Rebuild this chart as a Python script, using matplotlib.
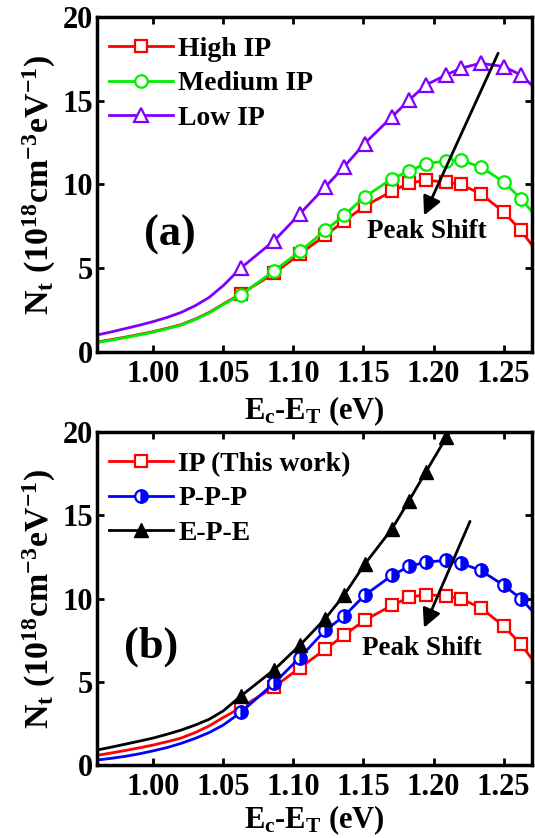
import matplotlib
matplotlib.use('Agg')
import matplotlib.pyplot as plt

plt.rcParams['font.family'] = ['Liberation Serif', 'DejaVu Serif']
plt.rcParams['font.weight'] = 'bold'
plt.rcParams['axes.labelweight'] = 'bold'
plt.rcParams['mathtext.fontset'] = 'custom'
plt.rcParams['mathtext.rm'] = 'Liberation Serif:bold'
plt.rcParams['mathtext.it'] = 'Liberation Serif:bold'
plt.rcParams['mathtext.bf'] = 'Liberation Serif:bold'
plt.rcParams['mathtext.default'] = 'bf'

# low-energy part has no markers
x_low = [0.96, 0.97, 0.98, 0.99, 1.00, 1.01, 1.02, 1.03, 1.04, 1.05]
x_mk = [1.0625, 1.0865, 1.1047, 1.1228, 1.1361, 1.1508, 1.1704, 1.1826,
        1.1944, 1.2091, 1.2194, 1.2336, 1.2501, 1.2623]
x_end = [1.27]

# panel (a)
high_ip = [0.58, 0.72, 0.87, 1.03, 1.2, 1.4, 1.62, 1.95, 2.35, 2.85,
           3.45, 4.7, 5.85, 6.95, 7.8, 8.7, 9.6, 10.08, 10.25, 10.15, 10.0, 9.45, 8.35, 7.25,
           6.4]
medium_ip = [0.55, 0.69, 0.84, 1.0, 1.17, 1.37, 1.59, 1.92, 2.32, 2.82,
             3.4, 4.85, 6.0, 7.25, 8.15, 9.25, 10.35, 10.8, 11.25, 11.4, 11.45, 11.05, 10.15, 9.15,
             8.4]
low_ip = [1.0, 1.18, 1.38, 1.58, 1.8, 2.05, 2.35, 2.75, 3.25, 3.95,
          5.0, 6.65, 8.25, 9.85, 11.05, 12.45, 14.05, 15.05, 15.95, 16.55, 16.95, 17.25, 17.05, 16.55,
          15.95]

# panel (b)
ip_work = high_ip
ppp = [0.3, 0.4, 0.52, 0.67, 0.85, 1.05, 1.3, 1.6, 1.95, 2.4,
       3.16, 4.94, 6.46, 8.1, 8.94, 10.2, 11.4, 11.94, 12.2, 12.3, 12.14, 11.7, 10.8, 10.0,
       9.3]
x_epe = x_low + x_mk[:10] + [1.2194]
epe = [0.9, 1.07, 1.25, 1.43, 1.62, 1.85, 2.1, 2.4, 2.75, 3.25,
       4.14, 5.74, 7.2, 8.8, 10.2, 12.06, 14.2, 15.9, 17.6, 19.7,
       21.0]

x_all = x_low + x_mk + x_end
mk_idx = list(range(len(x_low), len(x_low) + len(x_mk)))
mk_epe = list(range(len(x_low), len(x_low) + 10))

fig = plt.figure(figsize=(5.35, 8.38), dpi=100)
ax1 = fig.add_axes([0.1813, 0.5803, 0.8125, 0.3991])
ax2 = fig.add_axes([0.1813, 0.0871, 0.8125, 0.3970])

lw = 2
ms = 8
ax1.plot(x_all, high_ip, '-s', color='red', lw=lw, ms=ms, mfc='white', mew=1.6,
         markevery=mk_idx, label='High IP')
ax1.plot(x_all, medium_ip, '-o', color='#00ee00', lw=lw, ms=ms + 1, mfc='white', mew=1.6,
         markevery=mk_idx, label='Medium IP')
ax1.plot(x_all, low_ip, '-^', color='#8000ff', lw=lw, ms=ms + 2, mfc='white', mew=1.6,
         markevery=mk_idx, label='Low IP')

ax2.plot(x_all, ip_work, '-s', color='red', lw=lw, ms=ms, mfc='white', mew=1.6,
         markevery=mk_idx, label='IP (This work)')
ax2.plot(x_all, ppp, '-o', color='blue', lw=lw, ms=ms + 1, fillstyle='right',
         mfc='blue', mfcalt='white', mew=1.6, markevery=mk_idx, label='P-P-P')
ax2.plot(x_epe, epe, '-^', color='black', lw=lw, ms=ms + 2, mew=1.0,
         markevery=mk_epe, label='E-P-E')

for ax, tag in [(ax1, '(a)'), (ax2, '(b)')]:
    ax.set_xlim(0.96, 1.27)
    ax.set_ylim(0, 20)
    ax.set_xticks([1.00, 1.05, 1.10, 1.15, 1.20, 1.25])
    ax.set_xticklabels(['1.00', '1.05', '1.10', '1.15', '1.20', '1.25'])
    ax.set_yticks([0, 5, 10, 15, 20])
    ax.tick_params(direction='in', top=True, right=True, width=2, length=5,
                   labelsize=22)
    ax.tick_params(axis='y', pad=3)
    ax.tick_params(axis='x', pad=6)
    for lab in ax.get_xticklabels() + ax.get_yticklabels():
        lab.set_fontweight('bold')
    for s in ax.spines.values():
        s.set_linewidth(2.5)
    ax.set_ylabel(r'N$_\mathbf{t}$ (10$^\mathbf{18}$cm$^\mathbf{-3}$eV$^\mathbf{-1}$)',
                  fontsize=24.5, labelpad=3)
    ax.legend(loc='upper left', bbox_to_anchor=(-0.005, 0.985), frameon=False,
              fontsize=20, handlelength=2.3, handletextpad=0.2, labelspacing=0.33,
              borderaxespad=0.2, borderpad=0.3)

ax1.set_xlabel(r'E$_\mathbf{c}$-E$_\mathbf{T}$ (eV)', fontsize=22, labelpad=4)
ax2.set_xlabel(r'E$_\mathbf{c}$-E$_\mathbf{T}$ (eV)', fontsize=22, labelpad=1)

ax1.text(1.012, 7.0, '(a)', fontsize=32, ha='center', va='center')
ax1.text(1.195, 7.2, 'Peak Shift', fontsize=19.5, ha='center', va='center')
ax1.annotate('', xy=(1.1924, 8.0), xytext=(1.2469, 18.0),
             arrowprops=dict(arrowstyle='-|>', lw=2, color='black', mutation_scale=28))

ax2.text(0.9988, 7.1, '(b)', fontsize=32, ha='center', va='center')
ax2.text(1.192, 7.0, 'Peak Shift', fontsize=19.5, ha='center', va='center')
ax2.annotate('', xy=(1.1924, 8.1), xytext=(1.2268, 14.8),
             arrowprops=dict(arrowstyle='-|>', lw=2, color='black', mutation_scale=28))

fig.savefig('out.png', dpi=100)
